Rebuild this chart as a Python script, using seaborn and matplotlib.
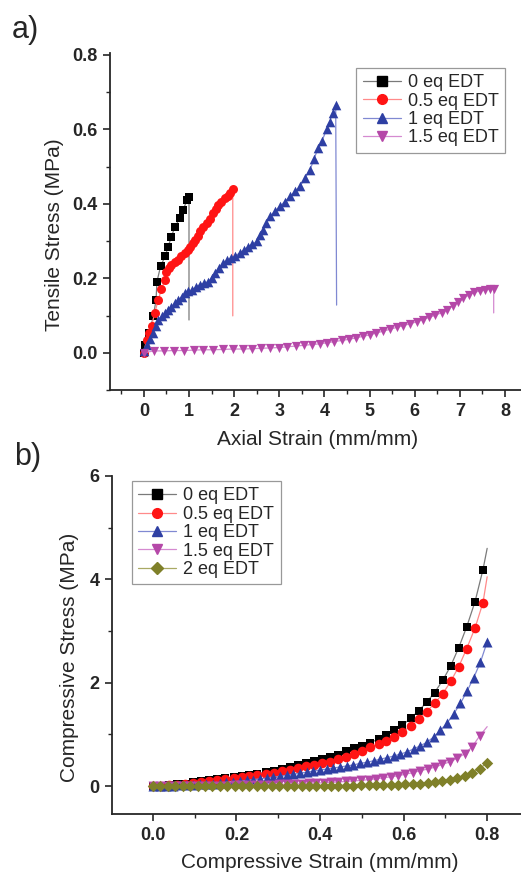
import matplotlib.pyplot as plt
from matplotlib.lines import Line2D
from matplotlib.ticker import MultipleLocator
import seaborn as sns

sns.set_style('ticks')
plt.rcParams['font.family'] = ['Liberation Sans', 'DejaVu Sans']

labels = ['0 eq EDT', '0.5 eq EDT', '1 eq EDT', '1.5 eq EDT', '2 eq EDT']
marker_colors = ['#000000', '#FF1414', '#2E3FA3', '#B548A8', '#7F8029']
line_colors = ['#7A7A7A', '#FF8A8A', '#8089D2', '#D58AD0', '#A9A964']
markers = ['s', 'o', '^', 'v', 'D']

# ---- a) tensile: strain / stress, last pair is the failure drop
tens_x_0 = [0.00, 0.02, 0.12, 0.21, 0.27, 0.29, 0.37, 0.47, 0.54, 0.61, 0.69, 0.80, 0.87, 0.96, 1.00]
tens_y_0 = [0.000, 0.021, 0.053, 0.098, 0.142, 0.191, 0.232, 0.259, 0.285, 0.312, 0.339, 0.361, 0.384, 0.411, 0.418]
tens_drop_0 = (1.00, 0.088)

tens_x_05 = [0.00, 0.06, 0.12, 0.17, 0.24, 0.32, 0.39, 0.47, 0.50, 0.56, 0.61, 0.68, 0.76, 0.83, 0.91, 0.97,
             1.02, 1.08, 1.13, 1.19, 1.24, 1.31, 1.39, 1.46, 1.54, 1.60, 1.65, 1.72, 1.80, 1.86, 1.91, 1.97]
tens_y_05 = [0.000, 0.035, 0.052, 0.071, 0.107, 0.142, 0.171, 0.196, 0.218, 0.228, 0.236, 0.243, 0.250, 0.259, 0.268, 0.277,
             0.285, 0.294, 0.303, 0.314, 0.326, 0.337, 0.348, 0.360, 0.375, 0.387, 0.397, 0.406, 0.415, 0.422, 0.429, 0.440]
tens_drop_05 = (1.97, 0.099)

tens_x_1 = [0.00, 0.06, 0.13, 0.21, 0.27, 0.32, 0.40, 0.47, 0.54, 0.61, 0.69, 0.76, 0.84, 0.91, 0.98, 1.06, 1.15,
            1.24, 1.33, 1.43, 1.50, 1.57, 1.66, 1.76, 1.85, 1.94, 2.03, 2.13, 2.22, 2.31, 2.40, 2.50, 2.57, 2.64,
            2.71, 2.79, 2.90, 3.01, 3.12, 3.24, 3.35, 3.46, 3.57, 3.68, 3.77, 3.86, 3.95, 4.05, 4.12, 4.18, 4.25]
tens_y_1 = [0.005, 0.021, 0.037, 0.053, 0.071, 0.089, 0.098, 0.107, 0.116, 0.124, 0.133, 0.142, 0.151, 0.160, 0.165,
            0.169, 0.176, 0.183, 0.187, 0.191, 0.202, 0.214, 0.228, 0.241, 0.248, 0.254, 0.261, 0.268, 0.277, 0.285,
            0.292, 0.299, 0.315, 0.330, 0.348, 0.366, 0.380, 0.393, 0.406, 0.420, 0.434, 0.447, 0.469, 0.491, 0.520,
            0.550, 0.570, 0.600, 0.620, 0.645, 0.665]
tens_drop_1 = (4.27, 0.128)

tens_x_15 = [0.00, 0.22, 0.44, 0.66, 0.88, 1.10, 1.32, 1.54, 1.76, 1.98, 2.20, 2.40, 2.60, 2.80, 3.00, 3.18,
             3.36, 3.54, 3.72, 3.90, 4.06, 4.22, 4.38, 4.54, 4.70, 4.85, 5.00, 5.15, 5.30, 5.45, 5.60, 5.75,
             5.90, 6.04, 6.18, 6.32, 6.46, 6.60, 6.72, 6.84, 6.96, 7.08, 7.20, 7.32, 7.44, 7.56, 7.66, 7.75]
tens_y_15 = [0.000, 0.005, 0.005, 0.006, 0.006, 0.007, 0.008, 0.008, 0.009, 0.010, 0.010, 0.011, 0.012, 0.013,
             0.014, 0.016, 0.018, 0.020, 0.022, 0.024, 0.027, 0.030, 0.033, 0.036, 0.040, 0.044, 0.048, 0.053,
             0.058, 0.063, 0.068, 0.073, 0.078, 0.083, 0.089, 0.095, 0.101, 0.108, 0.116, 0.125, 0.135, 0.146,
             0.155, 0.162, 0.166, 0.169, 0.171, 0.172]
tens_drop_15 = (7.75, 0.107)

# ---- b) compressive
comp_x_a = [0.000, 0.019, 0.039, 0.058, 0.077, 0.096, 0.116, 0.135, 0.154, 0.173, 0.193, 0.212, 0.231, 0.250,
            0.270, 0.289, 0.308, 0.328, 0.347, 0.366, 0.385, 0.405, 0.424, 0.443, 0.462, 0.482, 0.501, 0.520,
            0.540, 0.559, 0.578, 0.597, 0.617, 0.636, 0.655, 0.674, 0.694, 0.713, 0.732, 0.751, 0.771, 0.790]
comp_y_0 = [0.00, 0.01, 0.02, 0.04, 0.05, 0.07, 0.09, 0.11, 0.13, 0.15, 0.17, 0.19, 0.21, 0.24, 0.27, 0.30,
            0.33, 0.36, 0.40, 0.44, 0.48, 0.52, 0.56, 0.61, 0.67, 0.73, 0.78, 0.84, 0.91, 0.99, 1.08, 1.18,
            1.31, 1.46, 1.62, 1.81, 2.05, 2.33, 2.68, 3.08, 3.57, 4.19]
comp_end_0 = (0.80, 4.60)
comp_y_05 = [0.00, 0.01, 0.02, 0.03, 0.05, 0.06, 0.08, 0.09, 0.11, 0.13, 0.15, 0.17, 0.19, 0.21, 0.24, 0.26,
             0.29, 0.32, 0.35, 0.38, 0.41, 0.44, 0.47, 0.52, 0.57, 0.62, 0.68, 0.75, 0.81, 0.87, 0.95, 1.05,
             1.16, 1.29, 1.44, 1.60, 1.79, 2.03, 2.31, 2.66, 3.06, 3.55]
comp_end_05 = (0.80, 4.05)

comp_x_b = [0.000, 0.016, 0.032, 0.048, 0.064, 0.080, 0.096, 0.112, 0.128, 0.144, 0.160, 0.176, 0.192, 0.208,
            0.224, 0.240, 0.256, 0.272, 0.288, 0.304, 0.320, 0.336, 0.352, 0.368, 0.384, 0.400, 0.416, 0.432,
            0.448, 0.464, 0.480, 0.496, 0.512, 0.528, 0.544, 0.560, 0.576, 0.592, 0.608, 0.624, 0.640, 0.656,
            0.672, 0.688, 0.704, 0.720, 0.736, 0.752, 0.768, 0.784, 0.800]
comp_y_1 = [0.000, 0.000, 0.005, 0.010, 0.015, 0.020, 0.025, 0.035, 0.040, 0.050, 0.060, 0.070, 0.085, 0.095,
            0.110, 0.125, 0.140, 0.155, 0.170, 0.190, 0.210, 0.230, 0.250, 0.270, 0.290, 0.310, 0.330, 0.350,
            0.370, 0.390, 0.410, 0.440, 0.460, 0.490, 0.520, 0.550, 0.580, 0.620, 0.660, 0.720, 0.780, 0.850,
            0.950, 1.080, 1.220, 1.400, 1.600, 1.840, 2.100, 2.400, 2.790]

comp_x_c = [0.000, 0.018, 0.036, 0.053, 0.071, 0.089, 0.107, 0.124, 0.142, 0.160, 0.178, 0.196, 0.213, 0.231,
            0.249, 0.267, 0.284, 0.302, 0.320, 0.338, 0.356, 0.373, 0.391, 0.409, 0.427, 0.444, 0.462, 0.480,
            0.498, 0.516, 0.533, 0.551, 0.569, 0.587, 0.604, 0.622, 0.640, 0.658, 0.676, 0.693, 0.711, 0.729,
            0.747, 0.764, 0.782, 0.800]
comp_y_15 = [0.000, 0.000, 0.000, 0.001, 0.002, 0.003, 0.004, 0.005, 0.007, 0.009, 0.011, 0.013, 0.015, 0.018,
             0.021, 0.024, 0.028, 0.032, 0.036, 0.041, 0.046, 0.052, 0.058, 0.065, 0.070, 0.080, 0.090, 0.100,
             0.110, 0.125, 0.140, 0.160, 0.180, 0.200, 0.230, 0.260, 0.300, 0.330, 0.370, 0.420, 0.470, 0.540,
             0.630, 0.760, 0.970]
comp_end_15 = (0.80, 1.15)
comp_y_2 = [0.000, 0.000, 0.000, 0.000, 0.000, 0.000, 0.000, 0.000, 0.000, 0.000, 0.001, 0.001, 0.001, 0.002,
            0.002, 0.002, 0.003, 0.003, 0.004, 0.004, 0.005, 0.005, 0.006, 0.007, 0.008, 0.009, 0.010, 0.011,
            0.013, 0.015, 0.017, 0.020, 0.023, 0.027, 0.032, 0.038, 0.045, 0.055, 0.070, 0.090, 0.120, 0.150,
            0.190, 0.260, 0.340, 0.450]


def draw(ax, x, y, end, k, size):
    lx = x + [end[0]] if end else x
    ly = y + [end[1]] if end else y
    sns.lineplot(x=lx, y=ly, sort=False, estimator=None, color=line_colors[k], lw=0.9, ax=ax, zorder=2 + k)
    sns.scatterplot(x=x, y=y, marker=markers[k], color=marker_colors[k], s=size, linewidth=0,
                    ax=ax, zorder=2.5 + k)


def style(ax, xt, xl, yt, yl, xminor, yminor):
    sns.despine(ax=ax)
    for s in ['left', 'bottom']:
        ax.spines[s].set_linewidth(1.3)
    ax.set_xticks(xt)
    ax.set_xticklabels(xl, fontweight='bold')
    ax.set_yticks(yt)
    ax.set_yticklabels(yl, fontweight='bold')
    ax.xaxis.set_minor_locator(MultipleLocator(xminor))
    ax.yaxis.set_minor_locator(MultipleLocator(yminor))
    ax.tick_params(which='major', direction='out', length=5, width=1.2, labelsize=13, pad=4)
    ax.tick_params(which='minor', direction='out', length=3, width=1.0)


def legend(ax, n, anchor, loc):
    handles = [Line2D([], [], color=line_colors[k], lw=0.9, marker=markers[k], markersize=7 if k != 4 else 6,
                      markerfacecolor=marker_colors[k], markeredgecolor=marker_colors[k]) for k in range(n)]
    lg = ax.legend(handles, labels[:n], loc=loc, bbox_to_anchor=anchor, fontsize=13, frameon=True,
                   fancybox=False, edgecolor='#808080', handlelength=2.1, handletextpad=0.4,
                   labelspacing=0.08, borderpad=0.35, borderaxespad=0)
    lg.get_frame().set_linewidth(0.9)


fig = plt.figure(figsize=(5.21, 8.74), dpi=100)
ax_a = fig.add_axes([110 / 521, 1 - 390 / 874, 411 / 521, 337 / 874])
ax_b = fig.add_axes([112 / 521, 1 - 814 / 874, 409 / 521, 338 / 874])

draw(ax_a, tens_x_0, tens_y_0, tens_drop_0, 0, 32)
draw(ax_a, tens_x_05, tens_y_05, tens_drop_05, 1, 42)
draw(ax_a, tens_x_1, tens_y_1, tens_drop_1, 2, 48)
draw(ax_a, tens_x_15, tens_y_15, tens_drop_15, 3, 44)
ax_a.set_xlim(-0.75, 8.355)
ax_a.set_ylim(-0.1, 0.805)
style(ax_a, list(range(9)), [str(i) for i in range(9)],
      [0.0, 0.2, 0.4, 0.6, 0.8], ['0.0', '0.2', '0.4', '0.6', '0.8'], 0.5, 0.1)
ax_a.set_xlabel('Axial Strain (mm/mm)', fontsize=15)
ax_a.set_ylabel('Tensile Stress (MPa)', fontsize=15)
ax_a.xaxis.set_label_coords(0.506, -0.118)
ax_a.yaxis.set_label_coords(-0.112, 0.46)
legend(ax_a, 4, (0.961, 0.956), 'upper right')

draw(ax_b, comp_x_a, comp_y_0, comp_end_0, 0, 40)
draw(ax_b, comp_x_a, comp_y_05, comp_end_05, 1, 48)
draw(ax_b, comp_x_b, comp_y_1, None, 2, 52)
draw(ax_b, comp_x_c[:45], comp_y_15, comp_end_15, 3, 50)
draw(ax_b, comp_x_c, comp_y_2, None, 4, 34)
ax_b.set_xlim(-0.098, 0.881)
ax_b.set_ylim(-0.54, 6.0)
style(ax_b, [0.0, 0.2, 0.4, 0.6, 0.8], ['0.0', '0.2', '0.4', '0.6', '0.8'],
      [0, 2, 4, 6], ['0', '2', '4', '6'], 0.1, 1)
ax_b.set_xlabel('Compressive Strain (mm/mm)', fontsize=15)
ax_b.set_ylabel('Compressive Stress (MPa)', fontsize=15)
ax_b.xaxis.set_label_coords(0.509, -0.115)
ax_b.yaxis.set_label_coords(-0.08, 0.464)
legend(ax_b, 5, (0.049, 0.985), 'upper left')

fig.text(0.022, 1 - 30 / 874, 'a)', fontsize=22, va='center')
fig.text(0.027, 1 - 457 / 874, 'b)', fontsize=22, va='center')

fig.savefig('out.png', dpi=100)
